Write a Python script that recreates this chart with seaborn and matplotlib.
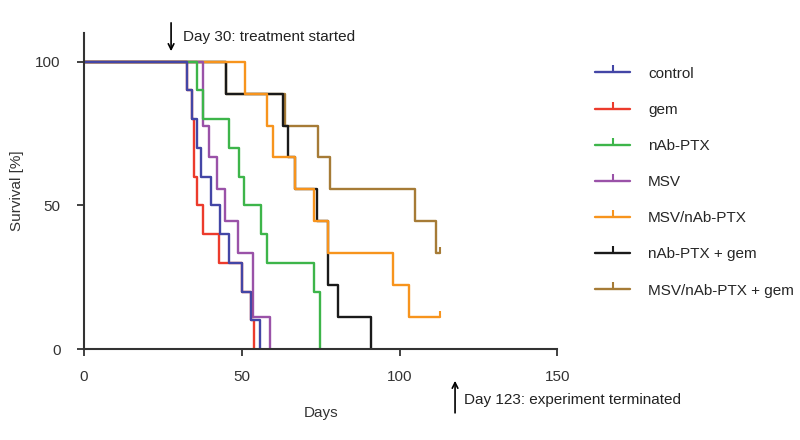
import matplotlib
matplotlib.use("Agg")
import matplotlib.pyplot as plt
from matplotlib.lines import Line2D
import seaborn as sns
import pandas as pd

# Kaplan-Meier steps (day of event, survival after it, %)
groups = ["control", "gem", "nAb-PTX", "MSV", "MSV/nAb-PTX",
          "nAb-PTX + gem", "MSV/nAb-PTX + gem"]
colors = ["#4346A6", "#EC3B2C", "#3DB54A", "#9A52A8", "#F7941D",
          "#1A1A1A", "#A67B36"]

control_days = [0, 32.7, 34.1, 35.7, 37.0, 40.2, 43.1, 46.1, 50.0, 52.8, 55.8]
control_surv = [100, 90, 80, 70, 60, 50, 40, 30, 20, 10, 0]

gem_days = [0, 32.7, 34.1, 34.9, 35.7, 37.8, 42.9, 50.0, 52.8, 53.9]
gem_surv = [100, 90, 80, 60, 50, 40, 30, 20, 10, 0]

nab_days = [0, 35.7, 37.8, 46.1, 49.2, 50.7, 56.0, 58.1, 73.0, 74.8]
nab_surv = [100, 90, 80, 70, 60, 50, 40, 30, 20, 0]

msv_days = [0, 37.8, 39.7, 42.1, 44.7, 48.9, 53.7, 59.0]
msv_surv = [100, 77.8, 66.7, 55.6, 44.4, 33.3, 11.1, 0]

msv_nab_days = [0, 51.0, 58.1, 59.8, 66.9, 72.9, 77.4, 97.8, 103.0, 112.8]
msv_nab_surv = [100, 88.9, 77.8, 66.7, 55.6, 44.4, 33.3, 22.2, 11.1, 11.1]

nab_gem_days = [0, 44.9, 63.2, 64.8, 66.9, 73.7, 77.4, 80.6, 90.9]
nab_gem_surv = [100, 88.9, 77.8, 66.7, 55.6, 44.4, 22.2, 11.1, 0]

msv_nab_gem_days = [0, 44.9, 63.8, 74.2, 78.0, 104.9, 111.6, 112.8]
msv_nab_gem_surv = [100, 88.9, 77.8, 66.7, 55.6, 44.4, 33.3, 33.3]

# censored animals at end of follow-up
censor_groups = ["MSV/nAb-PTX", "MSV/nAb-PTX + gem"]
censor_days = [112.8, 112.8]
censor_surv = [11.1, 33.3]

series = [(control_days, control_surv), (gem_days, gem_surv),
          (nab_days, nab_surv), (msv_days, msv_surv),
          (msv_nab_days, msv_nab_surv), (nab_gem_days, nab_gem_surv),
          (msv_nab_gem_days, msv_nab_gem_surv)]

rows = []
for name, (days, surv) in zip(groups, series):
    for d, s in zip(days, surv):
        rows.append({"group": name, "day": d, "surv": s})
df = pd.DataFrame(rows)
cens = pd.DataFrame({"group": censor_groups, "day": censor_days, "surv": censor_surv})

palette = dict(zip(groups, colors))

sns.set_style("ticks")
plt.rcParams["font.family"] = ["Liberation Sans", "DejaVu Sans"]
plt.rcParams["axes.edgecolor"] = "#333333"
plt.rcParams["xtick.color"] = "#333333"
plt.rcParams["ytick.color"] = "#333333"

fig = plt.figure(figsize=(8, 4.4), dpi=100)
ax = fig.add_axes([0.105, 0.2068, 0.5916, 0.7182])

# draw in reverse so control ends up on top
sns.lineplot(data=df, x="day", y="surv", hue="group", hue_order=groups[::-1],
             palette=palette, estimator=None, drawstyle="steps-post",
             linewidth=1.7, legend=False, ax=ax)
sns.scatterplot(data=cens, x="day", y="surv", hue="group", palette=palette,
                marker=2, s=20, linewidth=1.5, legend=False, ax=ax)

ax.set_xlim(0, 150)
ax.set_ylim(0, 110)
ax.set_xticks([0, 50, 100, 150])
ax.set_yticks([0, 50, 100])
ax.tick_params(axis="both", length=5, width=1.3, labelsize=11, labelcolor="#333333")
ax.tick_params(axis="x", pad=10)
ax.tick_params(axis="y", pad=12)
for sp in ["left", "bottom"]:
    ax.spines[sp].set_linewidth(1.5)
sns.despine(ax=ax)

ax.set_xlabel("Days", fontsize=11, color="#333333", labelpad=16)
ax.set_ylabel("Survival [%]", fontsize=11, color="#333333", labelpad=8)

ax.annotate("", xy=(27.6, 102.7), xytext=(27.6, 114.5),
            arrowprops=dict(arrowstyle="->", color="black", lw=1.2),
            annotation_clip=False)
ax.text(31.4, 108.6, "Day 30: treatment started", fontsize=11,
        color="#222222", va="center", ha="left", clip_on=False)
ax.annotate("", xy=(117.6, -10.1), xytext=(117.6, -23.2),
            arrowprops=dict(arrowstyle="->", color="black", lw=1.2),
            annotation_clip=False)
ax.text(120.4, -17.8, "Day 123: experiment terminated", fontsize=11,
        color="#222222", va="center", ha="left", clip_on=False)

handles = [Line2D([], [], color=c, lw=1.7, marker=2, markersize=5,
                  markeredgewidth=1.5) for c in colors]
fig.legend(handles, groups, loc="upper left", bbox_to_anchor=(0.744, 0.8484),
           bbox_transform=fig.transFigure, frameon=False, fontsize=11,
           numpoints=1, handlelength=2.3, handletextpad=1.15,
           labelspacing=1.45, borderpad=0, borderaxespad=0)

fig.savefig("out.png", dpi=100, facecolor="white")
